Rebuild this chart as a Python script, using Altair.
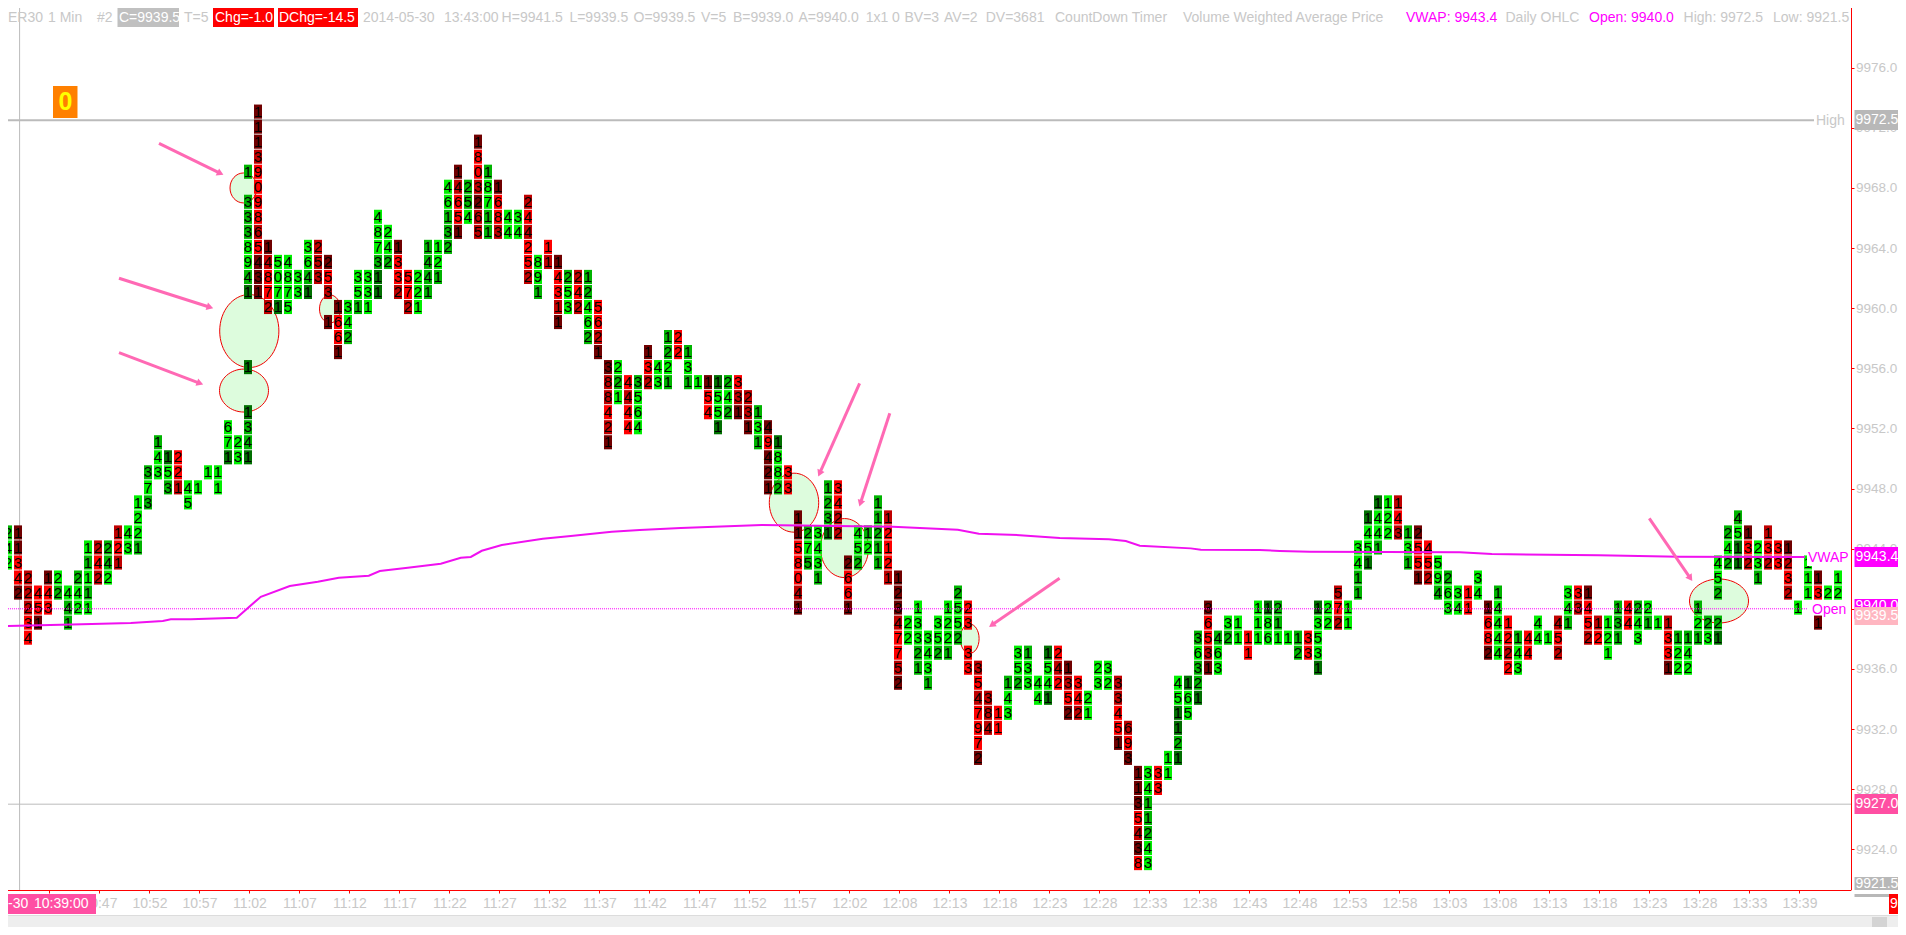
import math
import altair as alt
import pandas as pd

# ---- footprint ladder: (bar, first row below the top price, volumes, shade of each cell)
TOP_PRICE = 9973
bars_a = [
 (1,28,"242","gGG"),(2,28,"11342","KKRRK"),(3,31,"22234","rrrRR"),(4,32,"451","RRK"),
 (5,31,"143","KRR"),(6,31,"22","Gg"),(7,32,"441","Ggg"),(8,31,"242","gGG"),(9,29,"11111","GgGgG"),
 (10,29,"242","rRr"),(11,29,"242","ggG"),(12,28,"121","rRr"),(13,28,"43","GG"),(14,26,"1221","GGGg"),
 (15,24,"373","gGg"),(16,22,"143","gGG"),(17,23,"153","DGg"),(18,23,"221","RRr"),(19,25,"45","GG"),
 (20,25,"1","G"),(21,24,"1","G"),(22,24,"11","GG"),(23,21,"671","GGD"),(24,22,"23","GG"),
 (25,4,"1","g"),(25,6,"3338941","gggGGgD"),(25,17,"1","D"),(25,20,"1341","DggD"),
 (26,0,"1113909865431","KKKrRRRRrRKKK"),(27,9,"14872","KrRRr"),(28,10,"5071","GGGD"),(29,10,"4875","GGGG"),
 (30,11,"33","GG"),(31,9,"3641","GGgD"),(32,9,"253","rrr"),(33,10,"253","KRr"),(33,14,"1","K"),
 (34,13,"1661","KRRK"),(35,13,"342","GGg"),(36,11,"351","GGg"),(37,11,"331","GGG"),
]
bars_b = [
 (38,7,"487311","GGGgDD"),(39,8,"242","GGg"),(40,9,"1332","KRRr"),(41,11,"572","RRr"),(42,11,"221","GGG"),
 (43,9,"1441","gggg"),(44,9,"121","GGg"),(45,5,"46132","GGggg"),(46,4,"14651","KrRRK"),(47,5,"254","ggG"),
 (48,2,"1803265","KRRrKrr"),(49,4,"18711","gGGgg"),(50,5,"1683","KRRr"),(51,7,"44","GG"),(52,7,"34","GG"),
 (53,6,"244252","rRrRRr"),(54,10,"891","GGg"),(55,9,"11","Rr"),(56,10,"14311","KRRrK"),(57,11,"253","gGG"),
 (58,11,"242","rRr"),(59,11,"12462","ggGGg"),(60,13,"5621","RRrK"),(61,17,"388421","KrrRrK"),(62,17,"221","GgG"),
 (63,18,"4444","RrRR"),(64,18,"3564","gGGG"),(65,16,"132","KRr"),(66,17,"43","GG"),(67,15,"1221","ggGg"),
 (68,15,"22","RR"),(69,16,"131","gGg"),(70,18,"1","G"),(71,18,"154","KRR"),(72,18,"1551","DGGD"),
 (73,18,"242","gGg"),(74,18,"331","RrK"),(75,19,"231","rrK"),(76,20,"131","gGg"),(77,21,"49421","KRKKK"),
 (78,22,"1882","DGGg"),(79,24,"33","RR"),
]
bars_c = [
 (80,27,"1158041","KKRRRrK"),(81,28,"275","gGg"),(82,28,"3431","GGGg"),(83,25,"1231","gggD"),(84,25,"3422","RRrr"),
 (85,30,"2661","KRRK"),(86,28,"452","GGg"),(87,28,"12","gG"),(88,26,"11211","ggggg"),(89,27,"12121","rRRRr"),
 (90,31,"12347752","KKKrRRrK"),(91,34,"22","GG"),(92,33,"13321","GGGgg"),(93,35,"3431","GGGg"),(94,34,"352","GGg"),
 (95,33,"1221","GGGg"),(96,32,"2552","gGGg"),(97,33,"23","RR"),(97,36,"33","RR"),(98,37,"3547972","rRrRRRK"),
 (99,39,"384","rrr"),(100,40,"11","RR"),(101,38,"143","gGG"),(102,36,"352","GGg"),(103,36,"133","gGG"),
 (104,38,"44","GG"),(105,36,"1541","DGGD"),(106,36,"242","RrR"),(107,37,"1352","KrRK"),(108,38,"342","RRr"),
 (109,39,"21","GG"),(110,37,"23","GG"),(111,37,"32","GG"),(112,38,"33451","rrRRK"),(113,41,"693","rRK"),
 (114,44,"1135438","KKKRrKR"),(115,44,"3411243","GGgggGG"),(116,44,"33","RR"),(117,43,"11","GG"),
 (118,38,"451121","GGDDgD"),(119,38,"165","DGG"),(120,35,"36321","gGggD"),
]
bars_d = [
 (121,33,"36531","KRRrK"),(122,35,"463","gGG"),(123,34,"32","Gg"),(124,34,"11","GG"),(125,35,"11","RR"),
 (126,33,"111","GGG"),(127,33,"186","DGG"),(128,33,"211","ggG"),(129,35,"1","G"),(130,35,"12","gg"),
 (131,35,"33","RR"),(132,33,"13531","DGGGD"),(133,33,"22","GG"),(134,32,"572","rRr"),(135,33,"11","GG"),
 (136,29,"3411","GGgg"),(137,27,"1451","DGGD"),(138,26,"1441","DGGg"),(139,26,"122","GGG"),(140,26,"143","rRr"),
 (141,28,"131","gGg"),(142,28,"2551","KRRK"),(143,29,"452","RRr"),(144,30,"594","GGg"),(145,31,"263","gGG"),
 (146,32,"34","GG"),(147,32,"11","RR"),(148,31,"34","GG"),(149,33,"1682","KRRK"),(150,32,"14444","gGGGG"),
]
bars_e = [
 (151,34,"1222","RRrR"),(152,35,"143","gGG"),(153,35,"44","RR"),(154,34,"44","GG"),(155,35,"1","G"),
 (156,34,"452","rRr"),(157,32,"341","GGg"),(158,32,"33","Rr"),(159,32,"1452","KRRr"),(160,34,"12","rR"),
 (161,34,"121","GGG"),(162,33,"131","ggg"),(163,33,"44","RR"),(164,33,"243","gGG"),(165,33,"21","Gg"),
 (166,34,"1","G"),(167,34,"1331","rRRK"),(168,35,"122","gGG"),(169,35,"142","gGG"),(170,33,"121","gGg"),
 (171,34,"23","gG"),(172,30,"452","GGg"),(172,34,"21","gD"),(173,28,"242","gGg"),(174,27,"4511","gGDD"),
 (175,28,"132","KRr"),(176,29,"231","GGg"),(177,28,"132","rRr"),(178,29,"33","RR"),(179,29,"1232","KrRr"),
 (180,33,"1","G"),(181,30,"111","GGG"),(182,31,"13","KR"),(182,34,"1","K"),(183,32,"2","G"),(184,31,"12","GG"),
]
shades = {"G":"#00f000","g":"#00b400","D":"#007000","R":"#ff0000","r":"#c00000","K":"#700000"}

# ---- VWAP (bar, price)
vwap_bar = [0.22,8.4,13.3,16.5,17.3,19.3,23.9,26.3,29.2,32,34.1,37.1,38.2,41,44.3,46.3,47.3,48.4,50.4,54.5,57.3,
            61.4,64.2,68.3,76.4,89.5,96,98.1,102.2,106.2,111.1,112.8,114.2,119.3,120.3,126.2,128.2,131.2,146.2,149.4,160.1,168.1,180.7]
vwap_val = [9938.85,9938.97,9939.05,9939.19,9939.3,9939.3,9939.41,9940.8,9941.52,9941.8,9942.07,9942.2,9942.51,9942.73,
            9943.0,9943.4,9943.45,9943.86,9944.24,9944.66,9944.84,9945.13,9945.24,9945.37,9945.57,9945.46,9945.26,9945.0,
            9944.9,9944.71,9944.62,9944.51,9944.2,9944.02,9943.93,9943.91,9943.85,9943.8,9943.76,9943.64,9943.56,9943.47,9943.45]

# ---- hand drawn annotations: ellipses (bar, price, rx, ry) and arrows (bar, price -> bar, price)
ellipses = [(24.57,9968.0,13.5,15),(25.15,9958.48,29.6,36.5),(24.62,9954.52,24.5,21.5),(33.22,9959.95,10.5,14),
            (79.62,9947.06,24.7,29.5),(84.67,9944.04,24,29.5),(97.19,9938.01,9.4,14.7),(172.12,9940.52,29.5,22)]
arrows = [(16.12,9970.97,22.26,9968.97),(12.12,9961.99,21.22,9960.06),(12.12,9957.04,20.22,9955.0),
          (86.18,9955.0,82.18,9949.01),(89.2,9953.01,86.26,9947.02),(106.18,9942.03,99.4,9938.92),
          (165.15,9946.02,169.26,9942.03)]

time_labels = ["10:42","10:47","10:52","10:57","11:02","11:07","11:12","11:17","11:22","11:27","11:32","11:37",
               "11:42","11:47","11:52","11:57","12:02","12:08","12:13","12:18","12:23","12:28","12:33","12:38",
               "12:43","12:48","12:53","12:58","13:03","13:08","13:13","13:18","13:23","13:28","13:33","13:39"]
price_ticks = [9924,9928,9932,9936,9940,9944,9948,9952,9956,9960,9964,9968,9972,9976]
HIGH, LOW, OPEN_PX = 9972.5, 9927.0, 9940.0

GREY, MAG, PINK = "#c8c8c8", "#ff00ff", "#ff4fa3"
header = [
 (8,"ER30",GREY),(48,"1 Min",GREY),(97,"#2",GREY),(119,"C=9939.5","#ffffff"),(184,"T=5",GREY),
 (215,"Chg=-1.0","#ffffff"),(279,"DChg=-14.5","#ffffff"),(363,"2014-05-30",GREY),(444,"13:43:00",GREY),
 (501.6,"H=9941.5",GREY),(569.4,"L=9939.5",GREY),(633.5,"O=9939.5",GREY),(701,"V=5",GREY),(733,"B=9939.0",GREY),
 (798.4,"A=9940.0",GREY),(865.7,"1x1",GREY),(892,"0",GREY),(904.5,"BV=3",GREY),(944,"AV=2",GREY),(985.7,"DV=3681",GREY),
 (1055,"CountDown Timer",GREY),(1183,"Volume Weighted Average Price",GREY),(1406,"VWAP: 9943.4",MAG),
 (1505.5,"Daily OHLC",GREY),(1589,"Open: 9940.0",MAG),(1683.6,"High: 9972.5",GREY),(1773,"Low: 9921.5",GREY),
]
LBL_X = 1855.5
boxes_under = [
 (0,0,1906,7,"#f0f0f0"),(0,1.7,1906,2.7,"#d0d0d0"),(1342,0,1392,2.5,"#3399ff"),
 (117.5,7,179,27,"#c0c0c0"),(213,7,274,27,"#ff0000"),(278,7,358,27,"#ff0000"),
 (53,86,77.5,118,"#ff8000"),(1807,548,1849,566,"#ffffff"),
 (1854.5,110,1898,130,"#b8b8b8"),(1854.5,547,1898,567,MAG),(1854.5,599,1898,619,MAG),
 (1854.5,794,1898,814,PINK),(1854.5,877,1898,897,"#b8b8b8"),
]
labels_under = [
 (LBL_X,120,"9972.5","#ffffff"),(LBL_X,557,"9943.4","#ffffff"),(LBL_X,606,"9940.0","#ffffff"),
 (LBL_X,804,"9927.0","#ffffff"),(LBL_X,884,"9921.5","#ffffff"),
 (1816,121,"High",GREY),(1808,557.7,"VWAP",MAG),(1812,610,"Open",MAG),
]
boxes_over = [
 (1854.5,607,1898,625,"#ffb6c1"),(1851.5,890,1906,894,"#ffffff"),(0,894,96,914,PINK),(1889,894,1906,914,"#ff0000"),
 (0,915,1906,916,"#dcdcdc"),(0,916,1906,935,"#eeeeee"),(1872,917,1887,927,"#d4d4d4"),
]
labels_over = [(LBL_X,616,"9939.5","#ffffff"),(1890,904,"9","#ffffff"),(8,904,"-30","#ffffff"),(34,904,"10:39:00","#ffffff")]

# ---- scales: the screen holds bars 0.22..185.32 and prices 9921.29..9980.04
X_DOM = [0.22, 185.32]
Y_DOM = [9921.29, 9980.04]
W, H = 1851, 883
xs = alt.Scale(domain=X_DOM, nice=False, zero=False)
ys = alt.Scale(domain=Y_DOM, nice=False, zero=False)
def xv(px): return X_DOM[0] + px / 10.0
def yv(py): return Y_DOM[1] - (py - 7) * (Y_DOM[1] - Y_DOM[0]) / H

cells = []
for group in (bars_a, bars_b, bars_c, bars_d, bars_e):
    for bar, row, digits, shade in group:
        for i, (d, s) in enumerate(zip(digits, shade)):
            p = TOP_PRICE - row - i
            cells.append({"x1": bar - 0.38, "x2": bar + 0.42, "xc": bar + 0.02, "top": p + 0.55, "bot": p - 0.39,
                          "yc": p + 0.07, "d": d, "fill": shades[s]})
cells = pd.DataFrame(cells)

xaxis = alt.Axis(values=[5 * (i + 1) + 0.16 for i in range(len(time_labels))],
                 labelExpr="%s[round(datum.value / 5) - 1]" % str(time_labels),
                 title=None, grid=False, domainColor="#ff0000", tickColor="#ff0000", tickSize=3, labelPadding=3,
                 labelColor=GREY, labelFont="Liberation Sans", labelFontSize=14, labelOverlap=False, labelFlush=False, orient="bottom")
yaxis = alt.Axis(values=price_ticks, format=".1f", title=None, grid=False, domainColor="#ff0000", tickColor="#ff0000",
                 tickSize=3, labelPadding=1.5, labelColor=GREY, labelFont="Liberation Sans", labelFontSize=13.5,
                 labelOverlap=False, labelFlush=False, orient="right")
X = lambda f: alt.X(f, type="quantitative", scale=xs, axis=xaxis)
Y = lambda f: alt.Y(f, type="quantitative", scale=ys, axis=yaxis)
X2, Y2 = alt.X2, alt.Y2
NOCOL = lambda f: alt.Color(f, type="nominal", scale=None, legend=None)

def rect_layer(items):
    df = pd.DataFrame([{"a": xv(x1), "b": xv(x2), "t": yv(y1), "u": yv(y2), "f": f} for x1, y1, x2, y2, f in items])
    return alt.Chart(df).mark_rect(strokeWidth=0).encode(x=X("a"), x2=X2("b"), y=Y("t"), y2=Y2("u"), color=NOCOL("f"))

def text_layer(items, size=14, **kw):
    df = pd.DataFrame([{"x": xv(x), "y": yv(y), "s": s, "c": c} for x, y, s, c in items])
    return alt.Chart(df).mark_text(align="left", baseline="middle", font="Liberation Sans", fontSize=size, **kw).encode(
        x=X("x"), y=Y("y"), text="s:N", color=NOCOL("c"))

vline = alt.Chart(pd.DataFrame({"x": [xv(19.6)]})).mark_rule(color="#bbbbbb", strokeWidth=1).encode(x=X("x"))
levels = pd.DataFrame({"a": [X_DOM[0], X_DOM[0]], "b": [xv(1814), xv(1851)], "y": [HIGH, LOW], "w": [2, 1]})
hlines = alt.Chart(levels).mark_rule(color="#bbbbbb").encode(
    x=X("a"), x2=X2("b"), y=Y("y"), strokeWidth=alt.StrokeWidth("w:Q", scale=None))

ell = pd.DataFrame([{"c": c, "p": p,
                     "path": "M%g,0A%g,%g 0 1 1 %g,0A%g,%g 0 1 1 %g,0Z" % (-rx, rx, ry, rx, rx, ry, -rx)}
                    for c, p, rx, ry in ellipses])
ell_l = alt.Chart(ell).mark_point(filled=True, fill="#ddfcdd", stroke="#f00000", strokeWidth=1, opacity=1, size=4).encode(
    x=X("c"), y=Y("p"), shape=alt.Shape("path:N", scale=None, legend=None))

rects = alt.Chart(cells).mark_rect(strokeWidth=0).encode(x=X("x1"), x2=X2("x2"), y=Y("top"), y2=Y2("bot"), color=NOCOL("fill"))
digits = alt.Chart(cells).mark_text(color="#000000", font="Liberation Sans", fontSize=15, baseline="middle", align="center").encode(
    x=X("xc"), y=Y("yc"), text="d:N")

open_l = alt.Chart(pd.DataFrame({"a": [X_DOM[0]], "b": [xv(1807)], "y": [OPEN_PX]})).mark_rule(
    color=MAG, strokeWidth=1, strokeDash=[1, 1]).encode(x=X("a"), x2=X2("b"), y=Y("y"))
vwap_l = alt.Chart(pd.DataFrame({"c": vwap_bar, "p": vwap_val})).mark_line(color="#f010f0", strokeWidth=2).encode(
    x=X("c"), y=Y("p"))

arr = pd.DataFrame([{"a": a, "p": p, "b": b, "q": q,
                     "ang": math.degrees(math.atan2((b - a) * 10, (p - q) * -15.03)) % 360}
                    for a, p, b, q in arrows])
arr_l = alt.Chart(arr).mark_rule(color="#ff69b4", strokeWidth=3).encode(x=X("a"), x2=X2("b"), y=Y("p"), y2=Y2("q"))
arr_h = alt.Chart(arr).mark_point(shape="triangle-up", filled=True, fill="#ff69b4", opacity=1, size=60).encode(
    x=X("b"), y=Y("q"), angle=alt.Angle("ang:Q", scale=None))

head_items = [(x, 17.7, s, c) for x, s, c in header]
zero = text_layer([(58.5, 101.5, "0", "#ffff00")], size=25, fontWeight="bold")

chart = alt.layer(
    vline, hlines, ell_l, rects, digits, open_l, vwap_l, arr_l, arr_h,
    rect_layer(boxes_under), text_layer(head_items), text_layer(labels_under), zero,
    rect_layer(boxes_over), text_layer(labels_over),
).properties(
    width=W, height=H,
    padding={"left": -8, "top": -1, "right": 47, "bottom": 37},
    autosize=alt.AutoSizeParams(type="none"),
    background="#ffffff",
).configure_view(stroke=None)

chart.save("out.html", embed_options={"renderer": "svg", "actions": False})
